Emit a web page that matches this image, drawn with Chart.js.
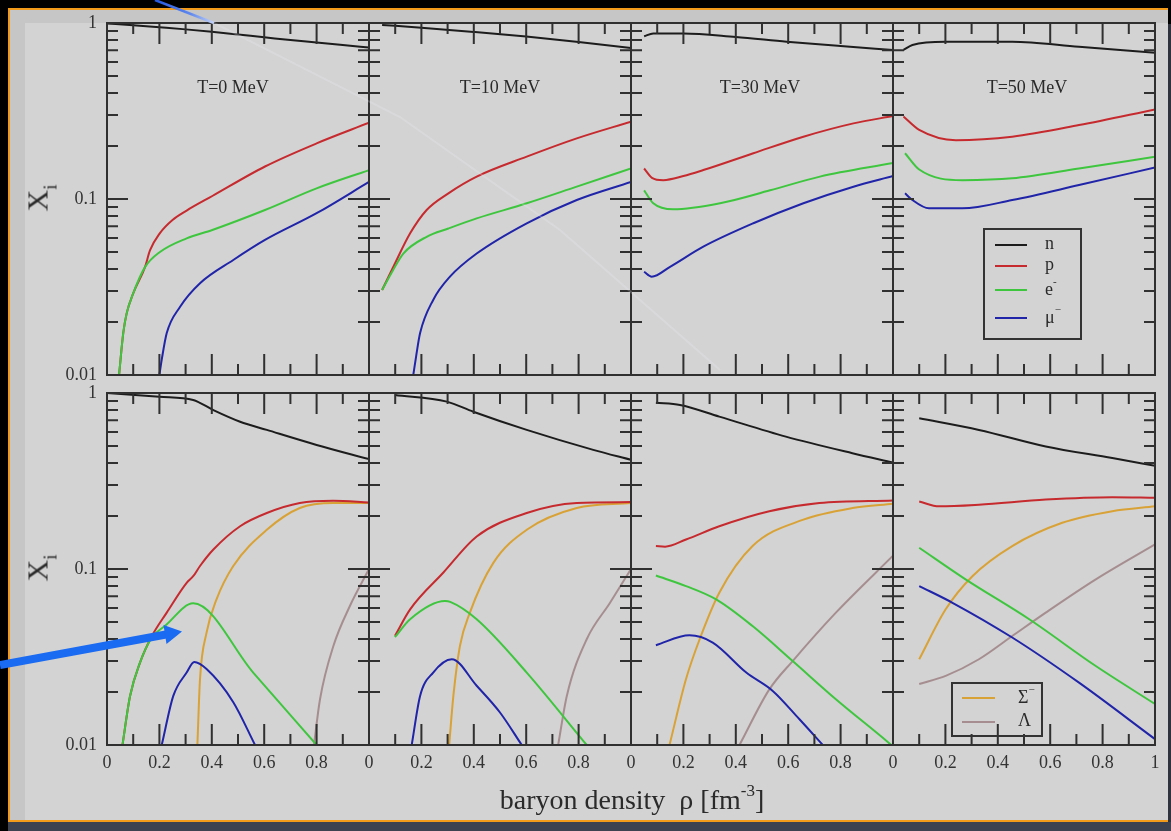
<!DOCTYPE html>
<html><head><meta charset="utf-8">
<script src="https://cdn.jsdelivr.net/npm/chart.js@4.4.1/dist/chart.umd.min.js"></script>
<style>
html,body{margin:0;padding:0;background:#000;width:1171px;height:831px;overflow:hidden;position:relative;font-family:"Liberation Serif","DejaVu Serif",serif;color:#2a2a2a}
.abs{position:absolute}
.title{position:absolute;font-size:18px;transform:translate(-50%,-50%);white-space:nowrap}
.legend{position:absolute;border:2px solid #333;box-sizing:border-box}
.lgline{position:absolute;height:2px}
.lgtext{position:absolute;font-size:18px;transform:translateY(-55%);white-space:nowrap}
.lgtext sup{font-size:11px;position:relative;top:-3px}
.ylab{position:absolute;font-size:30px;transform:translate(-50%,-50%) rotate(-90deg);white-space:nowrap}
.ylab sub{font-size:19px;position:relative;top:2px}
canvas{position:absolute}
</style></head><body>
<div class="abs" style="left:8px;top:8px;width:1160px;height:814px;background:#c6c6c6;border-top:2px solid #f29a1a;border-left:2px solid #f29a1a;border-bottom:2px solid #f29a1a;box-sizing:border-box"></div>
<div class="abs" style="left:25px;top:23px;width:1143px;height:797px;background:#d3d3d3"></div>
<div class="abs" style="left:1168px;top:24px;width:3px;height:807px;background:#2f333d"></div>
<div class="abs" style="left:8px;top:822px;width:1163px;height:9px;background:#3d4250"></div>
<div id="holder"></div>
<div class="ylab" style="left:40px;top:198px">X<sub>i</sub></div>
<div class="ylab" style="left:40px;top:568px">X<sub>i</sub></div>
<div class="abs" style="left:632px;top:800px;transform:translate(-50%,-50%);font-size:28px;white-space:nowrap">baryon density&nbsp; ρ [fm<sup style="font-size:17px;position:relative;top:-3px">-3</sup>]</div>
<svg class="abs" style="left:0;top:0;pointer-events:none" width="1171" height="831">
  <defs><linearGradient id="bl" x1="0" y1="0" x2="1" y2="0"><stop offset="0" stop-color="#2357e0"/><stop offset="0.6" stop-color="#5f88ee"/><stop offset="1" stop-color="#c4d2f4"/></linearGradient></defs>
  <line x1="155" y1="0" x2="214" y2="23" stroke="url(#bl)" stroke-width="2.5"/>
  <polyline points="214,23 400,117 560,230 720,370" fill="none" stroke="rgba(240,242,255,0.22)" stroke-width="2"/>
  <line x1="0" y1="665" x2="166" y2="634.5" stroke="#1a6af2" stroke-width="8"/>
  <polygon points="182,631.5 163.5,625 166.5,644" fill="#1a6af2"/>
</svg>
<script>
// ---------- categories & tick labels ----------
const temperatures = ['T=0 MeV', 'T=10 MeV', 'T=30 MeV', 'T=50 MeV'];
const speciesTop = ['n', 'p', 'e-', 'μ-'];
const speciesBottom = ['n', 'p', 'e-', 'μ-', 'Σ-', 'Λ'];
const xTickValues = [0, 0.2, 0.4, 0.6, 0.8, 1];
const xTickText = ['0', '0.2', '0.4', '0.6', '0.8', '1'];
const xMinorValues = [0.1, 0.3, 0.5, 0.7, 0.9];
const yTickValues = [0.01, 0.1, 1];
const yTickText = ['0.01', '0.1', '1'];
const yMinorValues = [0.02,0.03,0.04,0.05,0.06,0.07,0.08,0.09,0.2,0.3,0.4,0.5,0.6,0.7,0.8,0.9];

// ---------- data: [rho, X_i] ----------
// top row, T = 0
const T0_top_n  = [[0,0.995],[0.1,0.97],[0.2,0.945],[0.3,0.92],[0.4,0.892],[0.5,0.86],[0.6,0.83],[0.7,0.80],[0.8,0.775],[0.9,0.75],[1,0.725]];
const T0_top_p  = [[0.046,0.01],[0.062,0.0173],[0.075,0.0224],[0.1,0.0291],[0.145,0.041],[0.164,0.051],[0.202,0.064],[0.25,0.076],[0.304,0.086],[0.402,0.104],[0.603,0.153],[0.8,0.207],[1,0.271]];
const T0_top_e  = [[0.046,0.01],[0.062,0.0173],[0.075,0.0224],[0.1,0.0291],[0.145,0.041],[0.202,0.050],[0.304,0.0598],[0.402,0.0667],[0.603,0.0866],[0.8,0.115],[1,0.146]];
const T0_top_mu = [[0.2,0.01],[0.21,0.0125],[0.228,0.0173],[0.279,0.0244],[0.355,0.0332],[0.482,0.045],[0.603,0.0585],[0.8,0.083],[1,0.125]];
// top row, T = 10
const T10_top_n  = [[0.05,0.975],[0.2,0.94],[0.4,0.89],[0.6,0.838],[0.8,0.78],[1,0.72]];
const T10_top_p  = [[0.05,0.0304],[0.093,0.0412],[0.157,0.0638],[0.22,0.0866],[0.303,0.1077],[0.411,0.134],[0.602,0.174],[0.793,0.221],[1,0.275]];
const T10_top_e  = [[0.05,0.0304],[0.09,0.039],[0.131,0.049],[0.22,0.061],[0.303,0.068],[0.411,0.0776],[0.602,0.0945],[0.793,0.1175],[1,0.149]];
const T10_top_mu = [[0.169,0.01],[0.18,0.0128],[0.195,0.0173],[0.245,0.0267],[0.309,0.0362],[0.411,0.049],[0.602,0.0728],[0.793,0.0987],[1,0.125]];
// top row, T = 30
const T30_top_n  = [[0.05,0.84],[0.085,0.873],[0.2,0.873],[0.4,0.832],[0.594,0.783],[0.8,0.74],[1,0.703]];
const T30_top_p  = [[0.05,0.149],[0.08,0.132],[0.123,0.128],[0.2,0.135],[0.276,0.146],[0.467,0.182],[0.658,0.226],[0.849,0.269],[1,0.296]];
const T30_top_e  = [[0.05,0.112],[0.085,0.0946],[0.161,0.0874],[0.34,0.0946],[0.531,0.112],[0.721,0.134],[1,0.16]];
const T30_top_mu = [[0.05,0.0386],[0.079,0.0362],[0.149,0.0412],[0.276,0.0536],[0.467,0.0728],[0.658,0.0946],[0.849,0.1175],[1,0.135]];
// top row, T = 50
const T50_top_n  = [[0.04,0.703],[0.074,0.75],[0.2,0.783],[0.455,0.783],[0.71,0.733],[1,0.678]];
const T50_top_p  = [[0.04,0.294],[0.1,0.247],[0.24,0.216],[0.455,0.226],[0.71,0.263],[1,0.323]];
const T50_top_e  = [[0.046,0.182],[0.1,0.147],[0.265,0.128],[0.455,0.131],[0.71,0.149],[1,0.174]];
const T50_top_mu = [[0.046,0.1077],[0.074,0.0987],[0.137,0.0885],[0.265,0.0885],[0.455,0.0987],[0.71,0.12],[1,0.151]];

// bottom row (with hyperons), T = 0
const T0_bot_n   = [[0,1.0],[0.2,0.953],[0.329,0.913],[0.406,0.80],[0.508,0.687],[0.61,0.617],[0.8,0.507],[1,0.421]];
const T0_bot_p   = [[0.059,0.01],[0.088,0.019],[0.126,0.0294],[0.171,0.0415],[0.228,0.0565],[0.304,0.0835],[0.329,0.091],[0.355,0.104],[0.406,0.129],[0.508,0.175],[0.61,0.208],[0.736,0.237],[0.864,0.244],[1,0.239]];
const T0_bot_e   = [[0.059,0.01],[0.088,0.019],[0.126,0.0294],[0.171,0.0408],[0.221,0.0474],[0.329,0.0638],[0.558,0.0258],[0.8,0.01]];
const T0_bot_mu  = [[0.209,0.01],[0.253,0.019],[0.304,0.0258],[0.333,0.0296],[0.38,0.027],[0.482,0.0175],[0.565,0.01]];
const T0_bot_sig = [[0.345,0.01],[0.355,0.0237],[0.38,0.0435],[0.418,0.0672],[0.482,0.104],[0.61,0.167],[0.736,0.222],[0.864,0.237],[1,0.237]];
const T0_bot_lam = [[0.79,0.01],[0.813,0.0182],[0.864,0.0365],[0.927,0.0616],[1,0.1]];
// bottom row, T = 10
const T10_bot_n   = [[0.099,0.975],[0.297,0.893],[0.398,0.783],[0.602,0.617],[0.856,0.475],[1,0.417]];
const T10_bot_p   = [[0.099,0.0417],[0.157,0.059],[0.284,0.0955],[0.411,0.153],[0.602,0.208],[0.793,0.237],[1,0.24]];
const T10_bot_e   = [[0.099,0.041],[0.157,0.0518],[0.29,0.0657],[0.31,0.065],[0.411,0.0518],[0.602,0.0258],[0.831,0.01]];
const T10_bot_mu  = [[0.163,0.01],[0.195,0.019],[0.245,0.0258],[0.316,0.0307],[0.411,0.0217],[0.5,0.0153],[0.583,0.01]];
const T10_bot_sig = [[0.306,0.01],[0.322,0.019],[0.347,0.0365],[0.385,0.0565],[0.474,0.108],[0.602,0.167],[0.793,0.222],[1,0.237]];
const T10_bot_lam = [[0.722,0.01],[0.755,0.019],[0.831,0.0399],[0.92,0.0643],[1,0.1]];
// bottom row, T = 30
const T30_bot_n   = [[0.095,0.88],[0.187,0.855],[0.337,0.734],[0.591,0.565],[0.845,0.455],[1,0.403]];
const T30_bot_p   = [[0.095,0.135],[0.13,0.134],[0.21,0.147],[0.337,0.175],[0.528,0.213],[0.719,0.237],[1,0.245]];
const T30_bot_e   = [[0.095,0.0918],[0.21,0.08],[0.325,0.0672],[0.464,0.0474],[0.617,0.03],[0.782,0.0182],[0.98,0.0104],[1,0.0098]];
const T30_bot_mu  = [[0.095,0.0369],[0.223,0.042],[0.312,0.0382],[0.44,0.0258],[0.541,0.0203],[0.643,0.014],[0.732,0.01]];
const T30_bot_sig = [[0.147,0.01],[0.21,0.0237],[0.262,0.0399],[0.337,0.0733],[0.464,0.135],[0.655,0.19],[0.845,0.222],[1,0.235]];
const T30_bot_lam = [[0.414,0.01],[0.528,0.0207],[0.617,0.03],[0.782,0.0565],[1,0.119]];
// bottom row, T = 50
const T50_bot_n   = [[0.1,0.719],[0.328,0.617],[0.583,0.497],[0.837,0.427],[1,0.386]];
const T50_bot_p   = [[0.1,0.242],[0.176,0.227],[0.328,0.232],[0.583,0.248],[0.837,0.256],[1,0.254]];
const T50_bot_e   = [[0.1,0.132],[0.277,0.0873],[0.52,0.0518],[0.774,0.0281],[1,0.0171]];
const T50_bot_mu  = [[0.1,0.08],[0.227,0.0643],[0.455,0.0408],[0.71,0.0226],[1,0.0108]];
const T50_bot_sig = [[0.1,0.0307],[0.201,0.059],[0.303,0.091],[0.455,0.135],[0.646,0.183],[0.837,0.213],[1,0.227]];
const T50_bot_lam = [[0.1,0.0222],[0.201,0.0247],[0.328,0.0307],[0.455,0.0416],[0.583,0.0565],[0.774,0.0873],[1,0.138]];

// ---------- styles ----------
const speciesColors = {'n':'#1c1c1c','p':'#c62a2e','e-':'#3ec63e','μ-':'#2024a8','Σ-':'#d9a236','Λ':'#a68e90'};
const speciesOrder = {'n':0,'p':0,'e-':-1,'μ-':0,'Σ-':0,'Λ':0};

const panels = [
  {row:0,col:0,series:[T0_top_n,T0_top_p,T0_top_e,T0_top_mu]},
  {row:0,col:1,series:[T10_top_n,T10_top_p,T10_top_e,T10_top_mu]},
  {row:0,col:2,series:[T30_top_n,T30_top_p,T30_top_e,T30_top_mu]},
  {row:0,col:3,series:[T50_top_n,T50_top_p,T50_top_e,T50_top_mu]},
  {row:1,col:0,series:[T0_bot_n,T0_bot_p,T0_bot_e,T0_bot_mu,T0_bot_sig,T0_bot_lam]},
  {row:1,col:1,series:[T10_bot_n,T10_bot_p,T10_bot_e,T10_bot_mu,T10_bot_sig,T10_bot_lam]},
  {row:1,col:2,series:[T30_bot_n,T30_bot_p,T30_bot_e,T30_bot_mu,T30_bot_sig,T30_bot_lam]},
  {row:1,col:3,series:[T50_bot_n,T50_bot_p,T50_bot_e,T50_bot_mu,T50_bot_sig,T50_bot_lam]},
];

const PL0 = 107, PW = 262, PH = 352, ROWTOP = [23, 393];
const P = 28, YW = 80, XH = 34;
const FRAME = '#303030';

const insideTicks = {
  id: 'insideTicks',
  afterDatasetsDraw(chart) {
    const {ctx, chartArea: a, scales: {x, y}} = chart;
    ctx.save();
    ctx.strokeStyle = FRAME; ctx.lineWidth = 2; ctx.lineCap = 'butt';
    ctx.beginPath();
    const vx = (v, L) => { const p = x.getPixelForValue(v); ctx.moveTo(p, a.bottom); ctx.lineTo(p, a.bottom - L); ctx.moveTo(p, a.top); ctx.lineTo(p, a.top + L); };
    const vy = (v, L) => { const p = y.getPixelForValue(v); ctx.moveTo(a.left, p); ctx.lineTo(a.left + L, p); ctx.moveTo(a.right, p); ctx.lineTo(a.right - L, p); };
    xTickValues.forEach(v => vx(v, 21));
    xMinorValues.forEach(v => vx(v, 11));
    yTickValues.forEach(v => vy(v, 21));
    yMinorValues.forEach(v => vy(v, 11));
    ctx.stroke();
    ctx.strokeRect(a.left, a.top, a.width, a.height);
    ctx.restore();
  }
};

const holder = document.getElementById('holder');
panels.forEach(pn => {
  const plotL = PL0 + PW * pn.col, plotT = ROWTOP[pn.row];
  const showY = pn.col === 0, showX = pn.row === 1;
  const left = plotL - P - (showY ? YW : 0), top = plotT - P;
  const w = PW + 2 * P + (showY ? YW : 0), h = PH + 2 * P + (showX ? XH : 0);
  const cv = document.createElement('canvas');
  cv.width = w; cv.height = h;
  cv.style.left = left + 'px'; cv.style.top = top + 'px';
  cv.style.width = w + 'px'; cv.style.height = h + 'px';
  holder.appendChild(cv);
  const names = pn.row === 0 ? speciesTop : speciesBottom;
  new Chart(cv, {
    type: 'line',
    data: {
      datasets: pn.series.map((d, i) => ({
        label: names[i], data: d, order: speciesOrder[names[i]],
        borderColor: speciesColors[names[i]], borderWidth: 2,
        pointRadius: 0, fill: false, cubicInterpolationMode: 'monotone'
      }))
    },
    options: {
      responsive: false, animation: false, devicePixelRatio: 1,
      layout: {padding: {left: P, right: P, top: P, bottom: P}},
      plugins: {legend: {display: false}, tooltip: {enabled: false}},
      scales: {
        x: {
          type: 'linear', min: 0, max: 1, display: showX,
          afterBuildTicks: s => { s.ticks = xTickValues.map(v => ({value: v})); },
          afterFit: s => { if (showX) s.height = XH; },
          grid: {display: false, drawTicks: false}, border: {display: false},
          ticks: {
            autoSkip: false, maxRotation: 0, padding: 7, color: '#333',
            font: {family: 'Liberation Serif', size: 18},
            callback: (v, i) => (i === xTickValues.length - 1 && pn.col < 3) ? '' : xTickText[i]
          }
        },
        y: {
          type: 'logarithmic', min: 0.01, max: 1, display: showY,
          afterBuildTicks: s => { s.ticks = yTickValues.map(v => ({value: v})); },
          afterFit: s => { if (showY) s.width = YW; },
          grid: {display: false, drawTicks: false}, border: {display: false},
          ticks: {
            autoSkip: false, padding: 10, color: '#333',
            font: {family: 'Liberation Serif', size: 18},
            callback: (v, i) => yTickText[i]
          }
        }
      }
    },
    plugins: [insideTicks]
  });
});

// panel titles
const titleCenters = [233, 500, 760, 1027];
temperatures.forEach((t, i) => {
  const d = document.createElement('div');
  d.className = 'title'; d.textContent = t;
  d.style.left = titleCenters[i] + 'px'; d.style.top = '87px';
  document.body.appendChild(d);
});

// legends
function legend(box, entries, lineX, textX, ys) {
  const b = document.createElement('div');
  b.className = 'legend';
  Object.assign(b.style, {left: box[0] + 'px', top: box[1] + 'px', width: box[2] + 'px', height: box[3] + 'px'});
  document.body.appendChild(b);
  entries.forEach((e, i) => {
    const l = document.createElement('div');
    l.className = 'lgline';
    Object.assign(l.style, {left: lineX[0] + 'px', width: (lineX[1] - lineX[0]) + 'px', top: (ys[i] - 1) + 'px', background: speciesColors[e]});
    document.body.appendChild(l);
    const t = document.createElement('div');
    t.className = 'lgtext';
    const base = e.replace('-', '');
    t.innerHTML = base + (e.endsWith('-') ? (base === 'e' ? '<sup>-</sup>' : '<sup>&minus;</sup>') : '');
    Object.assign(t.style, {left: textX + 'px', top: ys[i] + 'px'});
    document.body.appendChild(t);
  });
}
legend([983, 228, 99, 112], speciesTop, [995, 1027], 1045, [245, 266, 290, 318]);
legend([951, 682, 92, 55], ['Σ-', 'Λ'], [962, 995], 1018, [698, 722]);
</script>
</body></html>
